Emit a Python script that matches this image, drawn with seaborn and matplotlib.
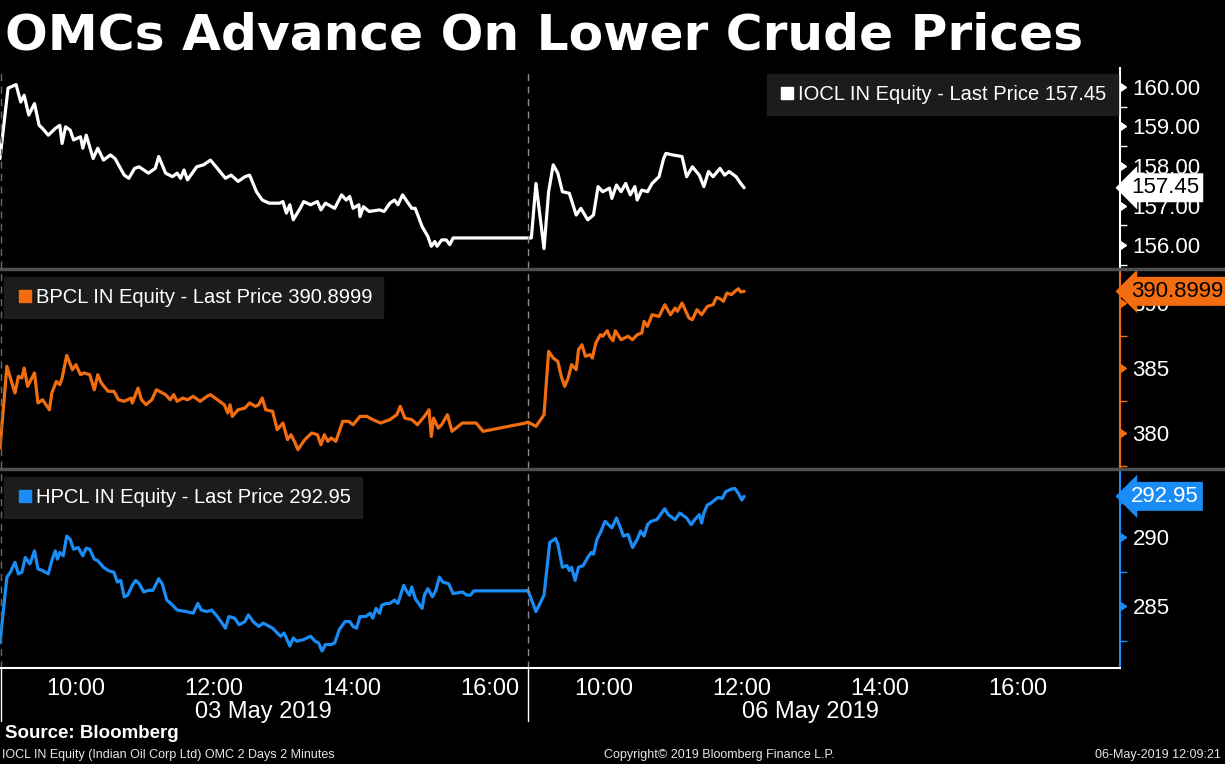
import numpy as np
import pandas as pd
import matplotlib
matplotlib.use("Agg")
import matplotlib.pyplot as plt
import matplotlib.transforms as mtransforms
from matplotlib.lines import Line2D
import seaborn as sns

# Prices (2-minute bars, thinned out), two sessions
iocl_d1_time = ["08:54", "09:01", "09:08", "09:12", "09:15", "09:19", "09:24", "09:28", "09:31", "09:36",
                "09:42", "09:46", "09:48", "09:51", "09:55", "09:58", "10:04", "10:06", "10:09", "10:15",
                "10:19", "10:24", "10:30", "10:34", "10:42", "10:46", "10:51", "10:55", "11:03", "11:09",
                "11:12", "11:18", "11:24", "11:28", "11:31", "11:34", "11:37", "11:45", "11:51", "11:57",
                "12:03", "12:10", "12:15", "12:21", "12:27", "12:31", "12:37", "12:42", "12:48", "12:57",
                "13:00", "13:03", "13:06", "13:09", "13:15", "13:18", "13:24", "13:30", "13:33", "13:37",
                "13:45", "13:51", "13:55", "13:58", "14:01", "14:06", "14:07", "14:10", "14:15", "14:24",
                "14:28", "14:33", "14:37", "14:40", "14:44", "14:48", "14:52", "14:55", "15:01", "15:06",
                "15:09", "15:12", "15:14", "15:18", "15:22", "15:25", "15:28", "16:32"]
iocl_d1_price = [158.19, 159.97, 160.06, 159.62, 159.79, 159.29, 159.58, 159.03, 158.95, 158.78,
                 158.95, 159.03, 158.57, 158.99, 158.91, 158.66, 158.74, 158.45, 158.78, 158.19,
                 158.45, 158.15, 158.28, 158.19, 157.77, 157.69, 157.94, 157.98, 157.82, 157.94,
                 158.24, 157.82, 157.73, 157.82, 157.69, 157.90, 157.65, 157.98, 158.03, 158.15,
                 157.94, 157.69, 157.77, 157.61, 157.73, 157.77, 157.35, 157.14, 157.06, 157.06,
                 157.10, 156.81, 157.02, 156.64, 156.93, 157.10, 157.02, 157.10, 156.89, 157.06,
                 156.93, 157.27, 157.14, 157.23, 156.93, 157.02, 156.72, 156.97, 156.85, 156.89,
                 156.85, 157.06, 157.14, 157.02, 157.27, 157.10, 156.93, 156.93, 156.47, 156.22,
                 155.97, 156.09, 155.97, 156.13, 156.13, 156.01, 156.18, 156.18]
iocl_d2_time = ["08:57", "09:01", "09:08", "09:12", "09:16", "09:20", "09:24", "09:30", "09:36", "09:40",
                "09:46", "09:51", "09:55", "09:59", "10:05", "10:07", "10:11", "10:15", "10:19", "10:23",
                "10:27", "10:29", "10:33", "10:38", "10:42", "10:48", "10:52", "10:54", "11:00", "11:08",
                "11:12", "11:17", "11:23", "11:27", "11:31", "11:35", "11:41", "11:45", "11:49", "11:55",
                "11:59", "12:02"]
iocl_d2_price = [156.18, 157.56, 155.91, 157.35, 158.03, 157.82, 157.35, 157.31, 156.76, 156.93,
                 156.64, 156.76, 157.48, 157.35, 157.44, 157.18, 157.52, 157.35, 157.56, 157.27,
                 157.48, 157.14, 157.39, 157.35, 157.56, 157.73, 158.19, 158.32, 158.28, 158.24,
                 157.73, 157.98, 157.77, 157.48, 157.86, 157.73, 157.94, 157.77, 157.86, 157.73,
                 157.56, 157.45]

bpcl_d1_time = ["08:54", "09:00", "09:07", "09:10", "09:13", "09:15", "09:18", "09:24", "09:27", "09:31",
                "09:34", "09:37", "09:39", "09:43", "09:46", "09:48", "09:52", "09:57", "10:00", "10:04",
                "10:07", "10:12", "10:16", "10:19", "10:22", "10:28", "10:33", "10:37", "10:42", "10:48",
                "10:49", "10:54", "10:57", "11:01", "11:06", "11:10", "11:18", "11:22", "11:25", "11:28",
                "11:33", "11:37", "11:42", "11:48", "11:54", "11:57", "12:03", "12:09", "12:12", "12:14",
                "12:16", "12:21", "12:27", "12:31", "12:36", "12:39", "12:42", "12:45", "12:51", "12:55",
                "13:00", "13:04", "13:07", "13:10", "13:13", "13:19", "13:25", "13:30", "13:33", "13:36",
                "13:39", "13:42", "13:46", "13:52", "13:57", "14:01", "14:07", "14:13", "14:18", "14:25",
                "14:33", "14:39", "14:42", "14:46", "14:52", "14:57", "15:03", "15:07", "15:09", "15:11",
                "15:15", "15:18", "15:23", "15:27", "15:36", "15:48", "15:54", "16:31"]
bpcl_d1_price = [378.85, 385.13, 383.08, 384.36, 384.23, 385.00, 383.59, 384.62, 382.31, 382.56,
                 382.18, 381.79, 383.08, 383.97, 383.72, 384.23, 385.97, 384.87, 385.26, 384.49,
                 384.62, 384.49, 383.33, 384.49, 383.85, 383.21, 383.21, 382.56, 382.44, 382.69,
                 382.31, 383.46, 382.56, 382.18, 382.56, 383.33, 382.95, 382.56, 382.95, 382.44,
                 382.69, 382.56, 382.82, 382.44, 382.82, 382.95, 382.56, 382.18, 381.54, 382.18,
                 381.28, 381.79, 381.92, 382.31, 382.05, 382.18, 382.69, 381.79, 381.67, 380.26,
                 380.77, 379.49, 379.87, 379.36, 378.72, 379.49, 380.00, 379.87, 379.10, 379.87,
                 379.36, 379.62, 379.36, 380.90, 380.90, 380.64, 381.28, 381.28, 381.03, 380.77,
                 381.03, 381.41, 382.05, 381.15, 381.03, 380.64, 381.28, 381.79, 379.74, 381.15,
                 380.38, 380.64, 381.41, 380.13, 380.77, 380.77, 380.13, 380.77]
bpcl_d2_time = ["08:54", "09:01", "09:08", "09:12", "09:16", "09:20", "09:23", "09:26", "09:29", "09:32",
                "09:36", "09:38", "09:41", "09:44", "09:48", "09:50", "09:53", "09:57", "09:59", "10:03",
                "10:05", "10:08", "10:10", "10:15", "10:21", "10:25", "10:29", "10:33", "10:35", "10:38",
                "10:42", "10:48", "10:53", "10:58", "11:02", "11:04", "11:08", "11:14", "11:17", "11:21",
                "11:25", "11:30", "11:35", "11:38", "11:41", "11:44", "11:47", "11:51", "11:54", "11:57",
                "11:59", "12:02"]
bpcl_d2_price = [380.85, 380.51, 381.41, 386.28, 385.77, 385.51, 384.36, 383.59, 384.23, 385.26,
                 384.87, 386.41, 386.79, 385.90, 386.03, 385.77, 386.92, 387.56, 387.44, 387.87,
                 387.44, 387.10, 387.87, 387.18, 387.44, 387.18, 387.56, 387.69, 388.59, 388.21,
                 389.10, 388.97, 389.87, 389.10, 389.62, 389.36, 390.00, 388.85, 388.72, 389.49,
                 389.10, 389.74, 389.87, 390.44, 390.33, 390.13, 390.77, 390.64, 390.90, 391.10,
                 390.85, 390.8999]

hpcl_d1_time = ["08:54", "09:00", "09:03", "09:07", "09:10", "09:13", "09:16", "09:20", "09:24", "09:27",
                "09:31", "09:36", "09:39", "09:42", "09:44", "09:46", "09:49", "09:52", "09:55", "09:58",
                "10:02", "10:06", "10:09", "10:12", "10:16", "10:19", "10:24", "10:28", "10:33", "10:36",
                "10:39", "10:42", "10:45", "10:49", "10:52", "10:55", "10:59", "11:03", "11:07", "11:12",
                "11:15", "11:19", "11:24", "11:28", "11:36", "11:42", "11:46", "11:49", "11:54", "11:58",
                "12:03", "12:07", "12:10", "12:13", "12:18", "12:22", "12:27", "12:30", "12:34", "12:39",
                "12:43", "12:51", "12:55", "12:58", "13:01", "13:06", "13:09", "13:12", "13:18", "13:24",
                "13:28", "13:31", "13:34", "13:37", "13:42", "13:45", "13:49", "13:54", "13:58", "14:01",
                "14:04", "14:07", "14:12", "14:16", "14:18", "14:21", "14:24", "14:26", "14:30", "14:33",
                "14:37", "14:40", "14:45", "14:48", "14:50", "14:52", "14:55", "14:58", "15:01", "15:03",
                "15:06", "15:10", "15:13", "15:16", "15:19", "15:24", "15:28", "15:36", "15:40", "15:43",
                "15:46", "16:31"]
hpcl_d1_price = [282.33, 287.10, 287.45, 288.17, 287.33, 287.45, 288.52, 288.05, 289.00, 287.69,
                 287.57, 287.33, 288.29, 289.00, 288.40, 288.88, 288.64, 290.07, 289.83, 289.12,
                 289.24, 288.64, 289.19, 289.12, 288.40, 288.29, 287.81, 287.57, 287.45, 286.74,
                 286.86, 285.67, 285.79, 286.50, 286.86, 286.62, 286.02, 286.14, 286.14, 286.98,
                 286.62, 285.43, 285.07, 284.71, 284.60, 284.48, 285.19, 284.71, 284.60, 284.71,
                 284.24, 283.76, 283.40, 284.24, 284.12, 283.64, 283.88, 284.36, 283.88, 283.52,
                 283.76, 283.40, 283.05, 282.81, 283.05, 282.10, 282.69, 282.45, 282.57, 282.81,
                 282.45, 282.33, 281.74, 282.21, 282.21, 282.33, 283.29, 283.88, 283.88, 283.52,
                 283.40, 284.24, 284.24, 284.48, 284.12, 284.83, 284.48, 285.07, 285.19, 285.19,
                 285.43, 285.19, 286.50, 286.02, 285.79, 286.38, 285.55, 285.19, 284.83, 285.79,
                 286.26, 285.67, 286.14, 287.10, 286.74, 286.62, 285.90, 286.02, 285.79, 285.79,
                 286.10, 286.10]
hpcl_d2_time = ["08:54", "09:01", "09:08", "09:13", "09:18", "09:20", "09:24", "09:28", "09:30", "09:32",
                "09:35", "09:38", "09:42", "09:46", "09:49", "09:51", "09:54", "09:57", "10:01", "10:04",
                "10:07", "10:11", "10:15", "10:17", "10:21", "10:25", "10:29", "10:32", "10:35", "10:38",
                "10:41", "10:46", "10:53", "10:56", "11:02", "11:06", "11:12", "11:16", "11:19", "11:23",
                "11:25", "11:27", "11:30", "11:33", "11:39", "11:43", "11:46", "11:51", "11:54", "11:57",
                "12:00", "12:02"]
hpcl_d2_price = [286.14, 284.60, 285.79, 289.60, 289.90, 289.48, 287.81, 287.93, 287.57, 287.81,
                 286.86, 287.81, 287.93, 288.52, 288.88, 288.76, 289.83, 290.31, 291.14, 290.90,
                 290.67, 291.38, 290.55, 290.07, 290.19, 289.24, 289.83, 290.43, 290.07, 290.90,
                 291.14, 291.26, 292.05, 291.62, 291.26, 291.74, 291.38, 290.90, 291.26, 291.62,
                 291.02, 291.74, 292.33, 292.45, 292.86, 292.81, 293.29, 293.48, 293.52, 293.17,
                 292.69, 292.95]

tickers = ["IOCL", "BPCL", "HPCL"]
day_labels = ["03 May 2019", "06 May 2019"]
tick_hours = [10, 12, 14, 16]

# axis: each day starts 08:54, the 03 May session gets 7.65 h of width
AXIS_START = 8.9
DAY_LEN = 7.65
AXIS_END = 16.23


def to_x(times, day):
    t = pd.to_datetime(pd.Series(times), format="%H:%M")
    return (day * DAY_LEN + t.dt.hour + t.dt.minute / 60 - AXIS_START).to_numpy()


def make_df(t1, p1, t2, p2):
    return pd.DataFrame({"x": np.concatenate([to_x(t1, 0), to_x(t2, 1)]),
                         "price": p1 + p2})


frames = [make_df(iocl_d1_time, iocl_d1_price, iocl_d2_time, iocl_d2_price),
          make_df(bpcl_d1_time, bpcl_d1_price, bpcl_d2_time, bpcl_d2_price),
          make_df(hpcl_d1_time, hpcl_d1_price, hpcl_d2_time, hpcl_d2_price)]

sns.set_theme(style="dark", rc={"axes.facecolor": "black", "figure.facecolor": "black"})
plt.rcParams["font.family"] = ["Liberation Sans", "DejaVu Sans"]

colors = ["#ffffff", "#f26d10", "#1a8cf5"]
box_text = ["black", "black", "white"]
ylims = [(155.42, 160.48), (377.31, 392.54), (280.51, 294.86)]
majors = [[156, 157, 158, 159, 160], [380, 385, 390], [285, 290]]
minors = [[155.5, 156.5, 157.5, 158.5, 159.5], [377.5, 382.5, 387.5], [282.5, 287.5, 292.5]]
fmts = ["{:.2f}", "{:.0f}", "{:.0f}"]
last_fmts = ["{:.2f}", "{:.4f}", "{:.2f}"]
legend_pos = [("upper right", (0.998, 0.97)), ("upper left", (0.004, 0.965)), ("upper left", (0.004, 0.965))]
panel_px = [(68, 268), (270, 468), (470, 668)]

W, H = 1225, 764
fig = plt.figure(figsize=(W / 100, H / 100), dpi=100)

axes = []
for i, df in enumerate(frames):
    top, bot = panel_px[i]
    ax = fig.add_axes([0, 1 - bot / H, 1120 / W, (bot - top) / H])
    axes.append(ax)
    c = colors[i]
    sns.lineplot(data=df, x="x", y="price", ax=ax, color=c, linewidth=2.3,
                 estimator=None, legend=False)
    ax.set_xlim(0, AXIS_END)
    ax.set_ylim(*ylims[i])
    ax.grid(False)
    ax.set_xlabel("")
    ax.set_ylabel("")
    for s in ["top", "left", "bottom"]:
        ax.spines[s].set_visible(False)
    ax.spines["right"].set_color(c)
    ax.spines["right"].set_linewidth(1.5)

    ax.axvline(DAY_LEN, color="#8c8c8c", lw=1, ls=(0, (5, 4)))
    ax.axvline(0.02, color="#6a6a6a", lw=1, ls=(0, (5, 4)))

    # right hand price axis
    ax.yaxis.tick_right()
    ax.set_yticks(majors[i])
    ax.set_yticklabels([fmts[i].format(v) for v in majors[i]])
    ax.set_yticks(minors[i], minor=True)
    ax.tick_params(axis="y", which="major", length=0, pad=9, labelsize=16, labelcolor="white")
    ax.tick_params(axis="y", which="minor", length=5, width=1, color=c, direction="out")
    ax.plot(np.ones(len(majors[i])), majors[i], ls="none", marker=9, ms=6, color=c,
            transform=ax.get_yaxis_transform(), clip_on=False)

    # legend box
    last = df["price"].iloc[-1]
    handle = Line2D([], [], marker="s", ls="none", color=c, markersize=9)
    loc, anchor = legend_pos[i]
    leg = ax.legend([handle], [f"{tickers[i]} IN Equity - Last Price {last_fmts[i].format(last)}"],
                    loc=loc, bbox_to_anchor=anchor, borderaxespad=0, fontsize=14.5,
                    frameon=True, fancybox=False, facecolor="#1c1c1c", edgecolor="#1c1c1c",
                    framealpha=1, handletextpad=0.1, handlelength=0.9, borderpad=0.55)
    for t in leg.get_texts():
        t.set_color("white")

    # last price tag on the axis
    ax.annotate(last_fmts[i].format(last), xy=(1, last), xycoords=ax.get_yaxis_transform(),
                xytext=(8, 0), textcoords="offset points", ha="left", va="center",
                fontsize=16, color=box_text[i], zorder=10, annotation_clip=False,
                bbox=dict(boxstyle="larrow,pad=0.18", fc=c, ec="none"))

ax3 = axes[-1]
for ax in axes[:-1]:
    ax.set_xticks([])

# time axis
day_ticks = np.concatenate([np.array(tick_hours) - AXIS_START + d * DAY_LEN for d in range(2)])
ax3.set_xticks(day_ticks)
ax3.set_xticklabels([f"{h}:00" for h in tick_hours] * 2)
hour_ticks = np.concatenate([np.arange(9, 17) - AXIS_START, np.arange(9, 18) - AXIS_START + DAY_LEN])
ax3.set_xticks(hour_ticks, minor=True)
ax3.tick_params(axis="x", which="major", length=0, pad=7, labelsize=17, labelcolor="white")
ax3.tick_params(axis="x", which="minor", length=4, color="white", direction="in")
ax3.spines["bottom"].set_visible(True)
ax3.spines["bottom"].set_color("white")
ax3.spines["bottom"].set_linewidth(1.5)

trans = mtransforms.blended_transform_factory(ax3.transData, ax3.transAxes)
ax3.text(3.82, -0.22, day_labels[0], transform=trans, ha="center", va="center",
         fontsize=17, color="white")
ax3.text(11.75, -0.22, day_labels[1], transform=trans, ha="center", va="center",
         fontsize=17, color="white")
for xv in [0.02, DAY_LEN]:
    ax3.plot([xv, xv], [0, -0.27], transform=trans, color="white", lw=1, clip_on=False)

# panel separators
for yp in [269, 469]:
    fig.add_artist(Line2D([0, 1], [1 - yp / H] * 2, transform=fig.transFigure,
                          color="#505050", lw=2.5))

fig.text(0.004, 1 - 36 / H, "OMCs Advance On Lower Crude Prices", fontsize=36.2,
         weight="bold", color="white", va="center", family="DejaVu Sans")
fig.text(0.004, 1 - 734 / H, "Source: Bloomberg", fontsize=13.5, weight="bold",
         color="white", va="center")
fig.text(0.002, 1 - 755 / H, "IOCL IN Equity (Indian Oil Corp Ltd) OMC 2 Days 2 Minutes",
         fontsize=9, color="#e6e6e6", va="center")
fig.text(0.587, 1 - 755 / H, "Copyright\u00a9 2019 Bloomberg Finance L.P.",
         fontsize=9, color="#e6e6e6", va="center", ha="center")
fig.text(0.997, 1 - 755 / H, "06-May-2019 12:09:21", fontsize=9, color="#e6e6e6",
         va="center", ha="right")

fig.savefig("out.png", dpi=100, facecolor="black")
